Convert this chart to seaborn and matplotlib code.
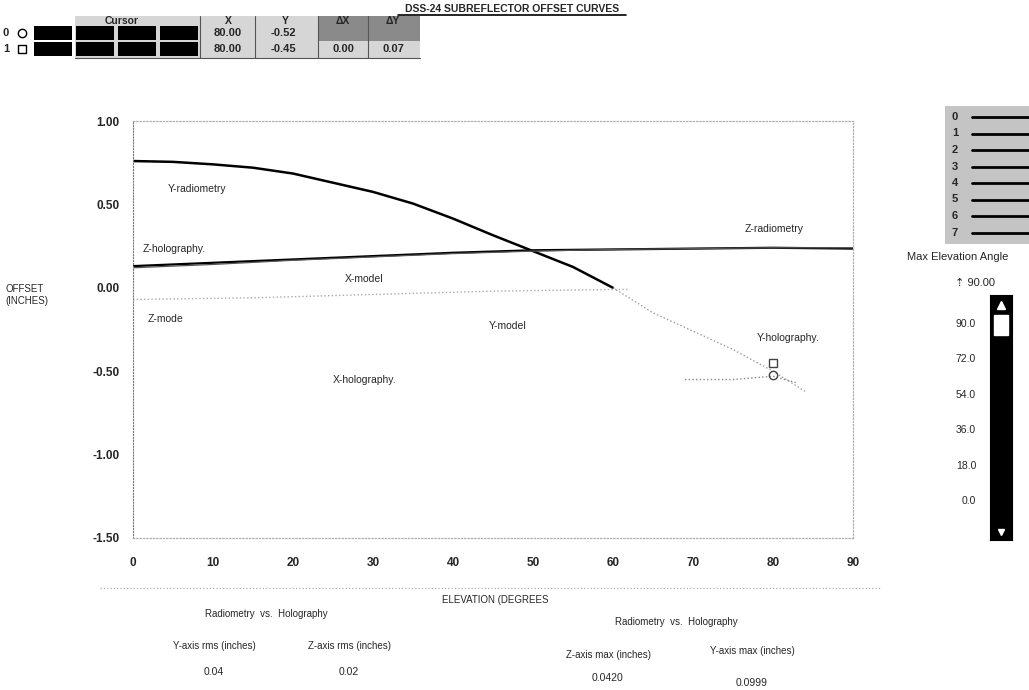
import numpy as np
import pandas as pd
import seaborn as sns
import matplotlib.pyplot as plt
from matplotlib.patches import Rectangle

# ---- data ----
elev_y_rad = [0, 5, 10, 15, 20, 25, 30, 35, 40, 45, 50, 55, 60]
off_y_rad = [0.76, 0.755, 0.74, 0.72, 0.685, 0.63, 0.575, 0.505, 0.415, 0.315, 0.22, 0.125, 0.0]
elev_y_tail = [60, 65, 70, 75, 80, 84]
off_y_tail = [0.0, -0.15, -0.26, -0.37, -0.50, -0.62]
elev_z = [0, 10, 20, 30, 40, 50, 60, 70, 80, 90]
off_z_rad = [0.13, 0.15, 0.17, 0.19, 0.21, 0.225, 0.23, 0.235, 0.24, 0.235]
off_z_holo = [0.12, 0.14, 0.165, 0.185, 0.205, 0.22, 0.23, 0.235, 0.24, 0.24]
elev_x_model = [0, 15, 30, 45, 60, 62]
off_x_model = [-0.07, -0.06, -0.04, -0.02, -0.01, -0.01]
elev_y_holo = [69, 75, 80, 83]
off_y_holo = [-0.55, -0.55, -0.53, -0.57]

curve_names = ['Y-radiometry', 'Z-holography.', 'X-model', 'Z-radiometry',
               'Z-mode', 'Y-model', 'Y-holography.', 'X-holography.']
name_x = [4.3, 1.2, 26.5, 76.5, 1.8, 44.5, 78.0, 25.0]
name_y = [0.59, 0.23, 0.05, 0.35, -0.19, -0.23, -0.30, -0.55]

cursor_ids = ['0', '1']
cursor_x = [80.00, 80.00]
cursor_y = [-0.52, -0.45]
cursor_dx = ['', '0.00']
cursor_dy = ['', '0.07']

slider_ticks = [0.0, 18.0, 36.0, 54.0, 72.0, 90.0]
max_elev = 90.00

stat_names = ['Y-axis rms (inches)', 'Z-axis rms (inches)', 'Z-axis max (inches)', 'Y-axis max (inches)']
stat_values = ['0.04', '0.02', '0.0420', '0.0999']

sns.set_style('white')
plt.rcParams['font.family'] = ['Liberation Sans', 'DejaVu Sans']

fig = plt.figure(figsize=(10.29, 6.90), dpi=100)

# pixel overlay for the panel furniture
ov = fig.add_axes([0, 0, 1, 1], zorder=-1)
ov.set_xlim(0, 1029)
ov.set_ylim(690, 0)
ov.axis('off')

# title
ov.text(512, 9, 'DSS-24 SUBREFLECTOR OFFSET CURVES', ha='center', va='center',
        fontsize=7.5, fontweight='bold')
ov.plot([398, 626], [15, 15], color='black', lw=1.2)

# cursor table
ov.add_patch(Rectangle((75, 16), 345, 42, color='#d6d6d6', lw=0))
ov.add_patch(Rectangle((318, 16), 102, 25, color='#8a8a8a', lw=0))
for xs in [200, 255, 318, 368]:
    ov.plot([xs, xs], [16, 58], color='#555', lw=0.8)
ov.plot([75, 420], [58, 58], color='#555', lw=0.8)
for hx, ht in zip([122, 228, 285, 343, 393], ['Cursor', 'X', 'Y', 'ΔX', 'ΔY']):
    ov.text(hx, 21, ht, ha='center', va='center', fontsize=7.5, fontweight='bold')
for i, cid in enumerate(cursor_ids):
    ry = 33 + i * 16
    ov.text(6, ry, cid, ha='center', va='center', fontsize=8, fontweight='bold')
    ov.plot(22, ry, marker='o' if i == 0 else 's', ms=6, mfc='white', mec='black', mew=1)
    for k in range(4):
        ov.add_patch(Rectangle((34 + k * 42, ry - 7), 38, 14, color='black', lw=0))
    ov.text(228, ry, f'{cursor_x[i]:.2f}', ha='center', va='center', fontsize=8, fontweight='bold')
    ov.text(283, ry, f'{cursor_y[i]:.2f}', ha='center', va='center', fontsize=8, fontweight='bold')
    ov.text(343, ry, cursor_dx[i], ha='center', va='center', fontsize=8, fontweight='bold')
    ov.text(393, ry, cursor_dy[i], ha='center', va='center', fontsize=8, fontweight='bold')

# plot legend box on the right
ov.add_patch(Rectangle((945, 106), 84, 138, color='#c4c4c4', lw=0))
for i in range(8):
    ry = 117 + i * 16.5
    ov.text(955, ry, str(i), ha='center', va='center', fontsize=8, fontweight='bold')
    ov.plot([972, 1029], [ry, ry], color='black', lw=2)

ov.text(958, 257, 'Max Elevation Angle', ha='center', va='center', fontsize=8)
ov.text(975, 283, f'⇡ {max_elev:.2f}', ha='center', va='center', fontsize=8)

# dotted frame line under the x tick labels
ov.plot([100, 880], [588, 588], color='#b0b0b0', lw=0.9, ls=':')

# main chart
ax = fig.add_axes([133 / 1029, 1 - 538 / 690, 720 / 1029, 417 / 690])
sns.lineplot(x=elev_y_rad, y=off_y_rad, ax=ax, color='black', lw=1.8)
sns.lineplot(x=elev_y_tail, y=off_y_tail, ax=ax, color='#9a9a9a', lw=1.0, ls=':')
sns.lineplot(x=elev_z, y=off_z_rad, ax=ax, color='black', lw=1.6)
sns.lineplot(x=elev_z, y=off_z_holo, ax=ax, color='#555555', lw=0.9)
sns.lineplot(x=elev_x_model, y=off_x_model, ax=ax, color='#aaaaaa', lw=1.0, ls=':')
sns.lineplot(x=elev_y_holo, y=off_y_holo, ax=ax, color='#888888', lw=1.0, ls=':')
ax.plot(cursor_x[0], cursor_y[0], marker='o', ms=6, mfc='none', mec='#444', mew=1)
ax.plot(cursor_x[1], cursor_y[1], marker='s', ms=6, mfc='none', mec='#444', mew=1)

for name, tx, ty in zip(curve_names, name_x, name_y):
    ax.text(tx, ty, name, fontsize=7.5, va='center', ha='left')

ax.set_xlim(0, 90)
ax.set_ylim(-1.5, 1.0)
ax.set_xticks(range(0, 91, 10))
ax.set_xticks(np.arange(0, 91, 2), minor=True)
ax.set_yticks([-1.5, -1.0, -0.5, 0.0, 0.5, 1.0])
ax.set_yticklabels([f'{v:.2f}' for v in [-1.5, -1.0, -0.5, 0.0, 0.5, 1.0]])
ax.set_yticks(np.arange(-1.5, 1.0, 0.05), minor=True)
ax.tick_params(axis='both', which='major', direction='out', length=6, width=1.2,
               labelsize=8.5, color='black')
ax.tick_params(axis='x', which='major', pad=8)
ax.tick_params(axis='y', which='minor', direction='out', length=2, width=1.6, color='black')
ax.tick_params(axis='x', which='minor', direction='out', length=3, width=0.8, color='#444')
for lab in ax.get_xticklabels() + ax.get_yticklabels():
    lab.set_fontweight('bold')
for side in ['top', 'bottom', 'right']:
    ax.spines[side].set_color('#b0b0b0')
    ax.spines[side].set_linestyle(':')
    ax.spines[side].set_linewidth(0.9)
ax.spines['left'].set_color('#777')
ax.spines['left'].set_linestyle(':')
ax.set_xlabel('')
ax.set_ylabel('')

fig.text(5 / 1029, 1 - 295 / 690, 'OFFSET\n(INCHES)', fontsize=7, ha='left', va='center')

# slider for max elevation
sl = fig.add_axes([990 / 1029, 1 - 540 / 690, 22 / 1029, 245 / 690])
sl.set_facecolor('black')
sl.set_ylim(-20, 104)
sl.set_xlim(0, 1)
sl.set_xticks([])
sl.set_yticks(slider_ticks)
sl.set_yticklabels([f'{v:.1f}' for v in slider_ticks])
sl.tick_params(axis='y', direction='out', length=8, width=1, labelsize=7.5, pad=2)
sl.add_patch(Rectangle((0.2, max_elev - 6), 0.6, 10, color='white'))
sl.plot(0.5, 99, marker='^', color='white', ms=6)
sl.plot(0.5, -16, marker='v', color='white', ms=4)
for s in sl.spines.values():
    s.set_color('black')

# bottom annotations
ov.text(495, 600, 'ELEVATION (DEGREES', ha='center', va='center', fontsize=7)
ov.text(266, 614, 'Radiometry  vs.  Holography', ha='center', va='center', fontsize=7)
ov.text(676, 622, 'Radiometry  vs.  Holography', ha='center', va='center', fontsize=7)
stat_px = [(214, 646), (349, 646), (608, 655), (752, 651)]
val_px = [(214, 672), (349, 672), (608, 678), (752, 683)]
for nm, v, (nx, ny), (vx, vy) in zip(stat_names, stat_values, stat_px, val_px):
    ov.text(nx, ny, nm, ha='center', va='center', fontsize=7)
    ov.text(vx, vy, v, ha='center', va='center', fontsize=7.5)

fig.savefig('out.png', dpi=100)
